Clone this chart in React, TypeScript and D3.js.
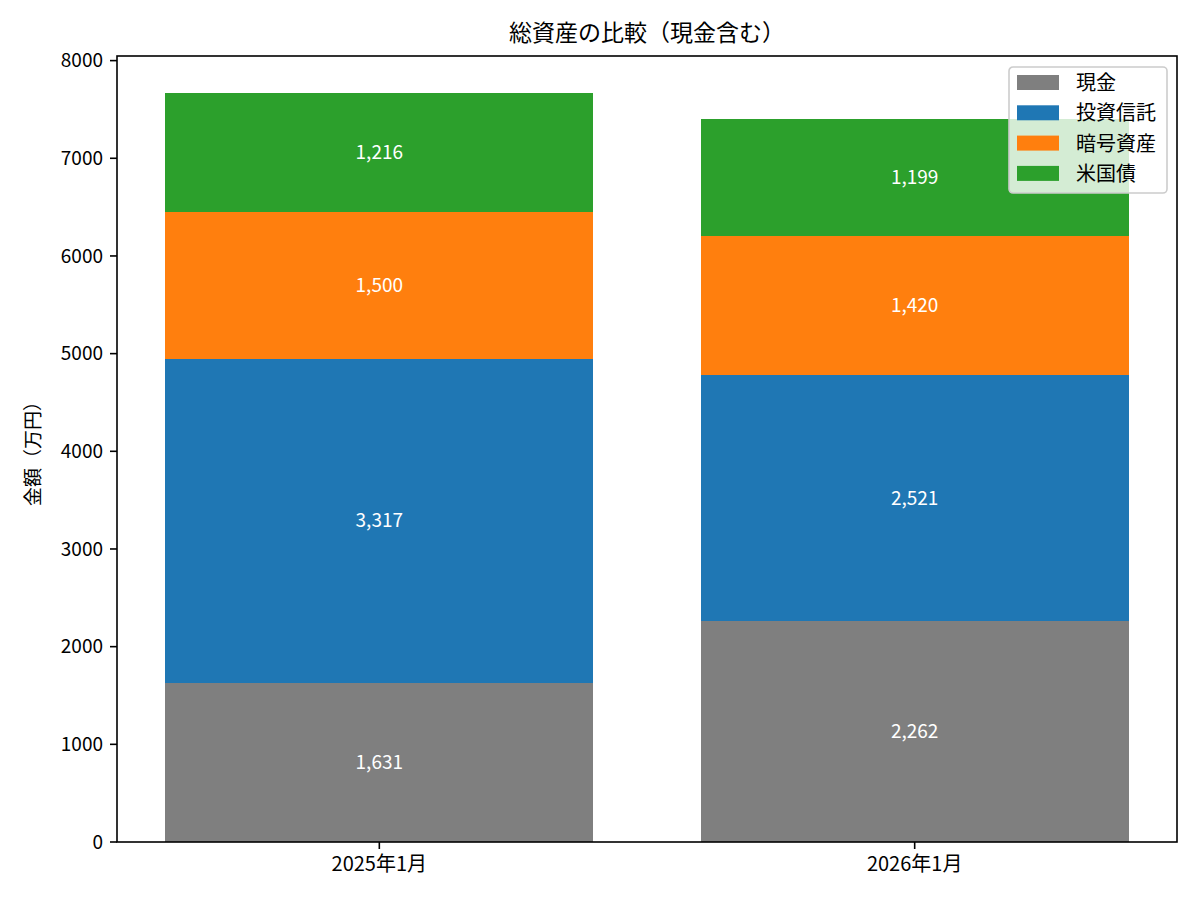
import React, { useEffect, useRef } from 'react';
import * as d3 from 'd3';

const periods = ['2025年1月', '2026年1月'];
const seriesNames = ['現金', '投資信託', '暗号資産', '米国債'];
const cash = [1631, 2262];
const funds = [3317, 2521];
const crypto = [1500, 1420];
const treasuries = [1216, 1199];
const seriesColors = ['#7f7f7f', '#1f77b4', '#ff7f0e', '#2ca02c'];
const yTicks = [0, 1000, 2000, 3000, 4000, 5000, 6000, 7000, 8000];

const FONT = '"Noto Sans CJK JP", "Noto Sans", sans-serif';

const App: React.FC = () => {
  const svgRef = useRef<SVGSVGElement>(null);
  const width = 1200;
  const height = 900;

  useEffect(() => {
    if (!svgRef.current) return;
    const svg = d3.select(svgRef.current);
    svg.selectAll('*').remove();

    const margin = { top: 56, right: 23, bottom: 58, left: 117 };
    const innerWidth = width - margin.left - margin.right;
    const innerHeight = height - margin.top - margin.bottom;

    const series = [cash, funds, crypto, treasuries];
    const rows = periods.map((p, i) => {
      const row: Record<string, number | string> = { period: p };
      seriesNames.forEach((name, s) => (row[name] = series[s][i]));
      return row;
    });
    const stacked = d3.stack<any>().keys(seriesNames)(rows);
    const maxTotal = d3.max(stacked[stacked.length - 1], d => d[1]) as number;

    // matplotlib-like linear x with bar width 0.8 and 5% margins
    const xScale = d3.scaleLinear().domain([-0.49, 1.49]).range([0, innerWidth]);
    const barW = xScale(0.8) - xScale(0);
    const yScale = d3
      .scaleLinear()
      .domain([0, maxTotal * 1.05])
      .range([innerHeight, 0]);

    const g = svg
      .append('g')
      .attr('transform', `translate(${margin.left},${margin.top})`);

    // Bars
    stacked.forEach((layer, s) => {
      g.append('g')
        .selectAll('rect')
        .data(layer)
        .enter()
        .append('rect')
        .attr('x', (d, i) => xScale(i) - barW / 2)
        .attr('width', barW)
        .attr('y', d => yScale(d[1]))
        .attr('height', d => yScale(d[0]) - yScale(d[1]))
        .attr('fill', seriesColors[s])
        .attr('shape-rendering', 'crispEdges');

      g.append('g')
        .selectAll('text')
        .data(layer)
        .enter()
        .append('text')
        .attr('x', (d, i) => xScale(i))
        .attr('y', d => yScale((d[0] + d[1]) / 2))
        .attr('dy', '0.35em')
        .attr('text-anchor', 'middle')
        .attr('fill', 'white')
        .style('font-family', FONT)
        .style('font-size', '19px')
        .text(d => d3.format(',')(d[1] - d[0]));
    });

    // Y axis ticks
    const yAxis = g.append('g');
    yTicks.forEach(t => {
      yAxis
        .append('line')
        .attr('x1', -7)
        .attr('x2', 0)
        .attr('y1', yScale(t))
        .attr('y2', yScale(t))
        .attr('stroke', '#000')
        .attr('stroke-width', 1.6);
      yAxis
        .append('text')
        .attr('x', -14)
        .attr('y', yScale(t))
        .attr('dy', '0.35em')
        .attr('text-anchor', 'end')
        .style('font-family', FONT)
        .style('font-size', '19px')
        .attr('fill', '#000')
        .text(t);
    });

    // X axis ticks
    const xAxis = g.append('g').attr('transform', `translate(0,${innerHeight})`);
    periods.forEach((p, i) => {
      xAxis
        .append('line')
        .attr('x1', xScale(i))
        .attr('x2', xScale(i))
        .attr('y1', 0)
        .attr('y2', 7)
        .attr('stroke', '#000')
        .attr('stroke-width', 1.6);
      xAxis
        .append('text')
        .attr('x', xScale(i))
        .attr('y', 29)
        .attr('text-anchor', 'middle')
        .style('font-family', FONT)
        .style('font-size', '20px')
        .attr('fill', '#000')
        .text(p);
    });

    // Frame
    g.append('rect')
      .attr('width', innerWidth)
      .attr('height', innerHeight)
      .attr('fill', 'none')
      .attr('stroke', '#000')
      .attr('stroke-width', 1.6);

    // Y label
    svg
      .append('text')
      .attr('transform', `translate(33,${margin.top + innerHeight / 2}) rotate(-90)`)
      .attr('text-anchor', 'middle')
      .attr('dy', '0.35em')
      .style('font-family', FONT)
      .style('font-size', '19px')
      .text('金額（万円）');

    // Title
    svg
      .append('text')
      .attr('x', margin.left + innerWidth / 2)
      .attr('y', 41)
      .attr('text-anchor', 'middle')
      .style('font-family', FONT)
      .style('font-size', '23px')
      .text('総資産の比較（現金含む）');

    // Legend
    const legend = svg.append('g').attr('transform', `translate(1009,67)`);
    legend
      .append('rect')
      .attr('width', 158)
      .attr('height', 126)
      .attr('rx', 4)
      .attr('fill', 'white')
      .attr('fill-opacity', 0.8)
      .attr('stroke', '#cccccc')
      .attr('stroke-width', 1.6);

    seriesNames.forEach((name, i) => {
      const item = legend.append('g').attr('transform', `translate(0,${16 + i * 30.3})`);
      item
        .append('rect')
        .attr('x', 8)
        .attr('y', -8)
        .attr('width', 42)
        .attr('height', 15)
        .attr('fill', seriesColors[i]);
      item
        .append('text')
        .attr('x', 67)
        .attr('dy', '0.35em')
        .style('font-family', FONT)
        .style('font-size', '20px')
        .text(name);
    });
  }, []);

  return (
    <svg
      ref={svgRef}
      width={width}
      height={height}
      style={{ position: 'absolute', left: 0, top: 0, background: 'white' }}
    />
  );
};

export default App;
